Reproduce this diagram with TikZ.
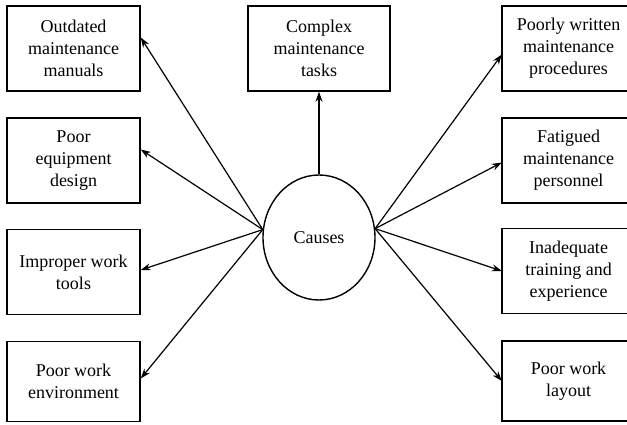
\documentclass[tikz,border=0pt]{standalone}
\usepackage{fontspec}
\setmainfont{Liberation Serif}
\usetikzlibrary{shapes.geometric,arrows.meta}
\begin{document}
\begin{tikzpicture}[x=1pt,y=-1pt,
  boxtext/.style={minimum width=133pt,minimum height=85pt,
    inner sep=2pt,align=center,font=\fontsize{18}{22}\selectfont},
  causebox/.style={boxtext,draw,line width=1.5pt},
  hub/.style={draw,ellipse,line width=1.4pt,minimum width=112pt,minimum height=125pt,
    inner sep=0pt,font=\fontsize{18}{22}\selectfont},
  edge/.style={line width=1.5pt},
  link/.style={line width=1.2pt,-{Stealth[length=10pt,width=7pt]}}]
\useasboundingbox (0,0) rectangle (627,425);
% left column
\node[causebox] (l1) at (73.5,48.5) {Outdated\\maintenance\\manuals};
\node[causebox] (l2) at (73.5,160.5) {Poor\\equipment\\design};
\node[causebox] (l3) at (73.5,272) {Improper work\\tools};
\node[causebox,minimum height=80pt] (l4) at (73.5,381.5) {Poor work\\environment};
% top centre
\node[causebox,minimum width=142pt] (c1) at (319,48.5) {Complex\\maintenance\\tasks};
% right column: the boxes run past the right margin, so their right sides are not drawn
\node[boxtext] (r1) at (568.5,48.5) {Poorly written\\maintenance\\procedures};
\node[boxtext] (r2) at (568.5,160.5) {Fatigued\\maintenance\\personnel};
\node[boxtext] (r3) at (568.5,271) {Inadequate\\training and\\experience};
\node[boxtext,minimum height=80pt] (r4) at (568.5,381) {Poor work\\layout};
\foreach \b in {r1,r2,r3,r4}
  \draw[edge] (\b.north east) -- (\b.north west) -- (\b.south west) -- (\b.south east);
% hub
\node[hub] (causes) at (319,237.5) {Causes};
% connectors
\draw[link] (causes.north) -- (c1.south);
\draw[link] (causes.172) -- ([yshift=11pt]l1.east);
\draw[link] (causes.172) -- ([yshift=11pt]l2.east);
\draw[link] (causes.172) -- ([yshift=2pt]l3.east);
\draw[link] (causes.172) -- ([yshift=3pt]l4.east);
\draw[link] (causes.9) -- ([yshift=-6pt]r1.west);
\draw[link] (causes.9) -- ([yshift=-2pt]r2.west);
\draw[link] (causes.9) -- (r3.west);
\draw[link] (causes.9) -- (r4.west);
\end{tikzpicture}
\end{document}
